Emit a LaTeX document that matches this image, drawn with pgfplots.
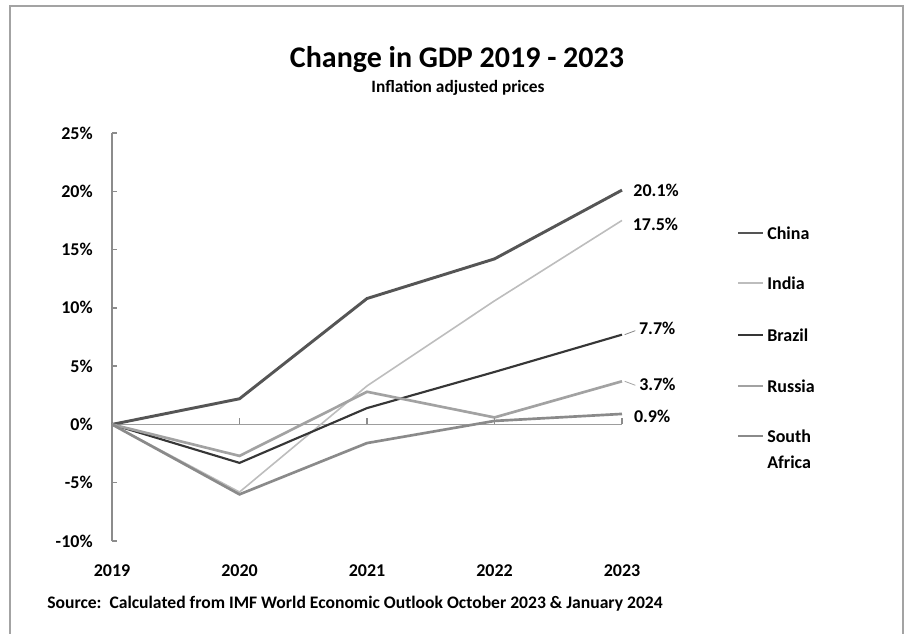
\documentclass[border=0pt]{standalone}
\usepackage{pgfplots}
\pgfplotsset{compat=1.18}
\usepackage{fontspec}
\setmainfont{Carlito}
\definecolor{cChina}{HTML}{555555}
\definecolor{cIndia}{HTML}{BDBDBD}
\definecolor{cBrazil}{HTML}{363636}
\definecolor{cRussia}{HTML}{A2A2A2}
\definecolor{cSA}{HTML}{8A8A8A}
\definecolor{cAxis}{HTML}{8C8C8C}
\begin{document}
\begin{tikzpicture}
\path[use as bounding box] (0pt,0pt) rectangle (679.5pt,475.5pt);
\draw[color=cAxis!80,line width=1.5pt] (7.5pt,0pt) -- (7.5pt,471pt) -- (677.25pt,471pt) -- (677.25pt,0pt);
\node[font=\bfseries\fontsize{22.5}{25}\selectfont] at (342.75pt,430.5pt) {Change in GDP 2019 - 2023};
\node[font=\bfseries\fontsize{13}{15}\selectfont] at (343.5pt,409.5pt) {Inflation adjusted prices};
\node[font=\bfseries\fontsize{13.2}{15}\selectfont,anchor=west,inner sep=0pt] at (35.25pt,22.5pt) {Source:\ \ Calculated from IMF World Economic Outlook October 2023 \& January 2024};
\begin{axis}[
  at={(84pt,69.75pt)}, anchor=south west,
  scale only axis, width=382.5pt, height=306pt,
  xmin=0, xmax=4, ymin=-10, ymax=25,
  axis y line*=left, axis x line*=bottom,
  x axis line style={draw=none},
  y axis line style={color=cAxis, line width=1.2pt},
  xtick={0,1,2,3,4}, xticklabels={2019,2020,2021,2022,2023},
  xtick style={draw=none},
  ytick={-10,-5,0,5,10,15,20,25},
  yticklabels={-10\%,-5\%,0\%,5\%,10\%,15\%,20\%,25\%},
  ytick style={color=cAxis, line width=1pt},
  tick align=inside, major tick length=4pt,
  tick label style={font=\bfseries\fontsize{13.5}{16}\selectfont},
  xticklabel style={yshift=-14pt},
  yticklabel style={xshift=-11pt},
  clip=false,
  every node near coord/.append style={text=black},
]
\addplot[color=cAxis!85, line width=1.2pt, forget plot] coordinates {(0,0) (4,0)};
\addplot[color=cChina, line width=2.2pt] coordinates {(0,0) (1,2.2) (2,10.8) (3,14.2) (4,20.1)}
  node[pos=1,anchor=west,inner sep=0pt,xshift=7.5pt,text=black,font=\bfseries\fontsize{13.5}{16}\selectfont]{20.1\%};
\addplot[color=cIndia, line width=1.2pt] coordinates {(0,0) (1,-5.8) (2,3.3) (3,10.6) (4,17.5)}
  node[pos=1,anchor=west,inner sep=0pt,xshift=7.5pt,yshift=-3pt,text=black,font=\bfseries\fontsize{13.5}{16}\selectfont]{17.5\%};
\addplot[color=cBrazil, line width=1.6pt] coordinates {(0,0) (1,-3.3) (2,1.4) (3,4.5) (4,7.7)}
  node[pos=1,anchor=west,inner sep=0pt,xshift=12pt,yshift=5pt,text=black,font=\bfseries\fontsize{13.5}{16}\selectfont]{7.7\%};
\addplot[color=cRussia, line width=2pt] coordinates {(0,0) (1,-2.7) (2,2.8) (3,0.6) (4,3.7)}
  node[pos=1,anchor=west,inner sep=0pt,xshift=12pt,yshift=-2.5pt,text=black,font=\bfseries\fontsize{13.5}{16}\selectfont]{3.7\%};
\addplot[color=cSA, line width=2pt] coordinates {(0,0) (1,-6.0) (2,-1.6) (3,0.3) (4,0.9)}
  node[pos=1,anchor=west,inner sep=0pt,xshift=8pt,yshift=-1.5pt,text=black,font=\bfseries\fontsize{13.5}{16}\selectfont]{0.9\%};
\draw[color=cAxis, line width=1pt] (axis cs:1,0) -- ++(0pt,4.5pt);
\draw[color=cAxis, line width=1pt] (axis cs:2,0) -- ++(0pt,4.5pt);
\draw[color=cAxis, line width=1pt] (axis cs:3,0) -- ++(0pt,4.5pt);
\draw[color=cAxis, line width=1pt] (axis cs:4,0) -- ++(0pt,4.5pt);
\draw[color=cBrazil!60, line width=0.6pt] (axis cs:4,7.7) ++(2pt,0pt) -- ++(8pt,3pt);
\draw[color=cRussia, line width=0.6pt] (axis cs:4,3.7) ++(2pt,0pt) -- ++(8pt,-3pt);
\end{axis}
% legend
\begin{scope}[every node/.style={anchor=west,inner sep=0pt,font=\bfseries\fontsize{13.5}{16}\selectfont}]
\draw[cChina, line width=2.2pt] (553.5pt,300.75pt) -- (572.25pt,300.75pt);
\node at (575.25pt,300.75pt) {China};
\draw[cIndia, line width=1.2pt] (553.5pt,263.25pt) -- (572.25pt,263.25pt);
\node at (575.25pt,263.25pt) {India};
\draw[cBrazil, line width=1.6pt] (553.5pt,224.25pt) -- (572.25pt,224.25pt);
\node at (575.25pt,224.25pt) {Brazil};
\draw[cRussia, line width=2pt] (553.5pt,186pt) -- (572.25pt,186pt);
\node at (575.25pt,186pt) {Russia};
\draw[cSA, line width=2pt] (553.5pt,148.5pt) -- (572.25pt,148.5pt);
\node at (575.25pt,148.5pt) {South};
\node at (575.25pt,128.5pt) {Africa};
\end{scope}
\end{tikzpicture}
\end{document}
